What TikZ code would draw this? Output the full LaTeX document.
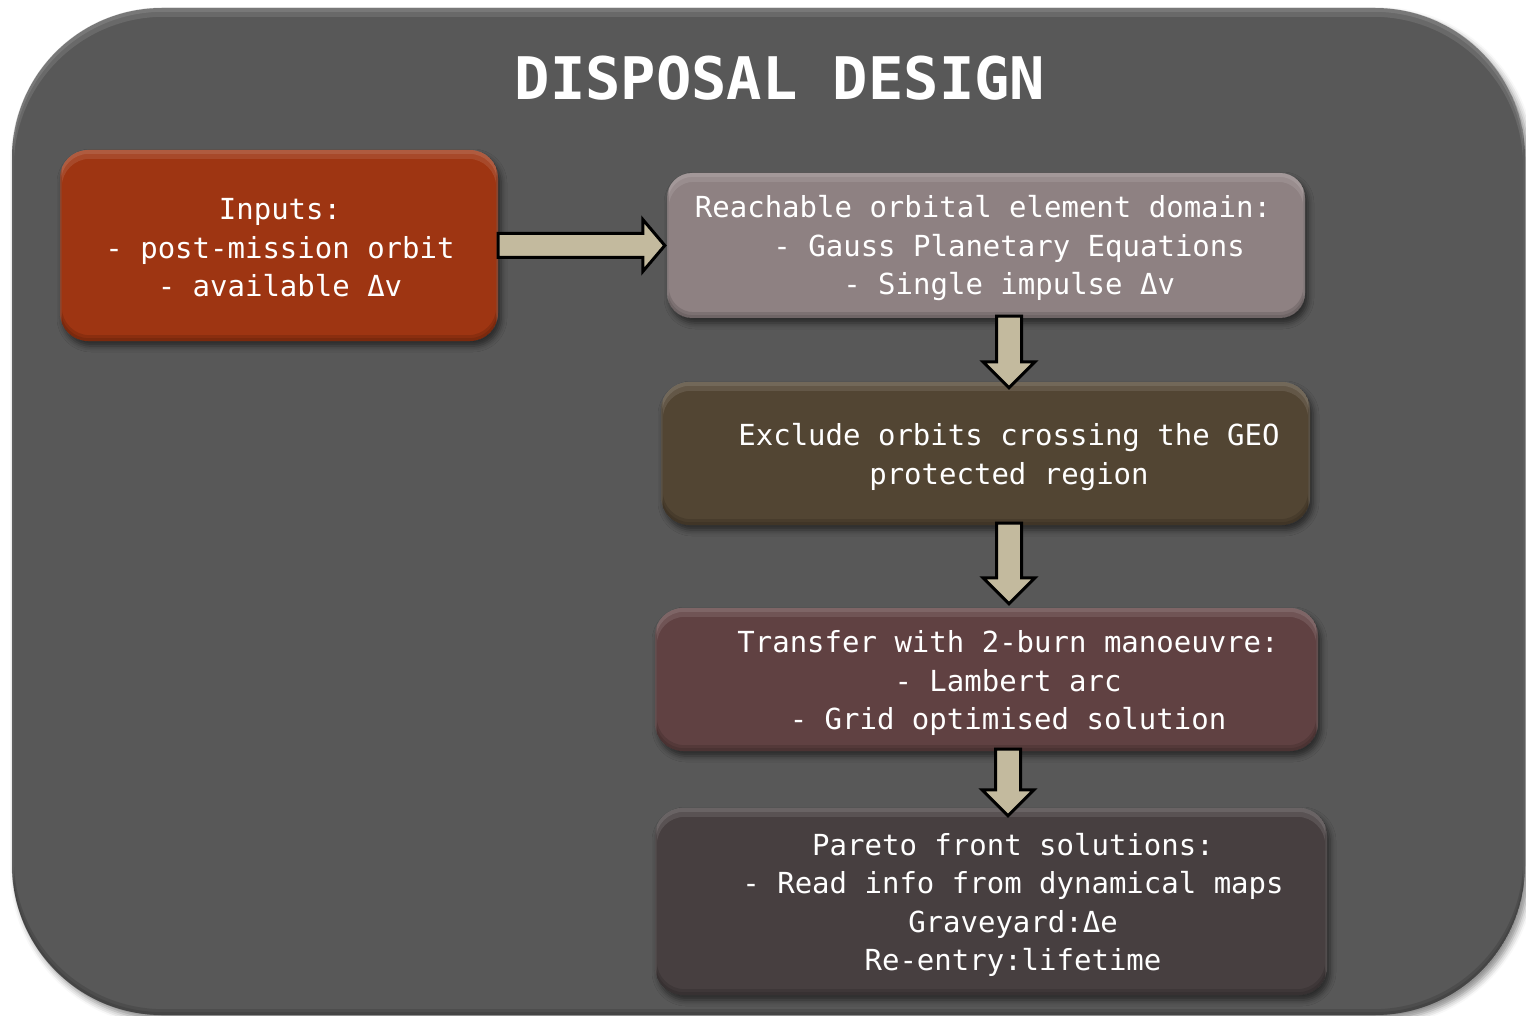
\documentclass[tikz,border=0pt]{standalone}
\usepackage{fontspec}
\setmonofont{DejaVu Sans Mono}
\usetikzlibrary{calc,shadows.blur}
\definecolor{framegray}{RGB}{88,88,88}
\definecolor{rust}{RGB}{158,53,18}
\definecolor{mauve}{RGB}{142,129,130}
\definecolor{brownbox}{RGB}{82,69,51}
\definecolor{winebox}{RGB}{96,65,66}
\definecolor{darkbox}{RGB}{71,63,64}
\definecolor{arrowtan}{RGB}{195,186,158}
\tikzset{
  stepbox/.style={rounded corners=28pt, inner sep=0pt, draw=none,
    blur shadow={shadow xshift=3pt, shadow yshift=-5pt, shadow blur radius=6pt, shadow opacity=55}},
  bodytext/.style={text=white, align=center, inner sep=0pt,
    font=\ttfamily\fontsize{29}{38.5}\selectfont},
  blockarrow/.style={fill=arrowtan, draw=black, line width=3pt, line join=miter},
}
\newcommand\bevelbox[2]{%
  \begin{scope}
    \clip[rounded corners=#2] (#1.south west) rectangle (#1.north east);
    \fill[white, opacity=.10, even odd rule, rounded corners=#2]
      (#1.south west) rectangle (#1.north east)
      ([xshift=2pt,yshift=-30pt]#1.south west) rectangle ([xshift=-2pt,yshift=-9pt]#1.north east);
    \fill[white, opacity=.10, even odd rule, rounded corners=#2]
      (#1.south west) rectangle (#1.north east)
      ([xshift=1pt,yshift=-30pt]#1.south west) rectangle ([xshift=-1pt,yshift=-4pt]#1.north east);
    \fill[black, opacity=.12, even odd rule, rounded corners=#2]
      (#1.south west) rectangle (#1.north east)
      ([xshift=2pt,yshift=6pt]#1.south west) rectangle ([xshift=-2pt,yshift=30pt]#1.north east);
    \fill[black, opacity=.10, even odd rule, rounded corners=#2]
      (#1.south west) rectangle (#1.north east)
      ([xshift=1pt,yshift=3pt]#1.south west) rectangle ([xshift=-1pt,yshift=30pt]#1.north east);
  \end{scope}}
\newcommand\vblock[4]{%
  \draw[blockarrow] let \p1=(#1.south), \p2=(#2.north), \p3=(#3.center) in
    (\x3-12.5pt,\y1+2pt) -- (\x3+12.5pt,\y1+2pt) -- (\x3+12.5pt,\y2-#4+26pt)
    -- (\x3+26pt,\y2-#4+26pt) -- (\x3,\y2-#4) -- (\x3-26pt,\y2-#4+26pt)
    -- (\x3-12.5pt,\y2-#4+26pt) -- cycle;}
\begin{document}
\begin{tikzpicture}[x=1pt,y=-1pt]
\useasboundingbox (0,0) rectangle (1526,1016);
% frame
\node[rounded corners=150pt, fill=framegray, inner sep=0pt, minimum width=1513pt, minimum height=1007pt,
  blur shadow={shadow xshift=4pt, shadow yshift=-5pt, shadow blur radius=6pt, shadow opacity=45}]
  (frame) at (768.5,511.5) {};
\bevelbox{frame}{150pt}
\node[text=white, font=\ttfamily\bfseries\fontsize{58.7}{60}\selectfont, inner sep=0pt] (title) at (780,78) {DISPOSAL DESIGN};
% boxes
\node[stepbox, fill=rust, minimum width=438pt, minimum height=191pt] (b1) at (279,245.5) {};
\bevelbox{b1}{28pt}
\node[stepbox, fill=mauve, minimum width=638pt, minimum height=145pt, rounded corners=25pt] (b2) at (986,245.5) {};
\bevelbox{b2}{25pt}
\node[stepbox, fill=brownbox, minimum width=649pt, minimum height=143pt] (b3) at (985.5,453.5) {};
\bevelbox{b3}{28pt}
\node[stepbox, fill=winebox, minimum width=663pt, minimum height=143pt] (b4) at (986.5,679.5) {};
\bevelbox{b4}{28pt}
\node[stepbox, fill=darkbox, minimum width=672pt, minimum height=187pt] (b5) at (991,901.5) {};
\bevelbox{b5}{28pt}
% texts
\node[bodytext] (t1) at (280,248) {Inputs:\\- post-mission orbit\\- available Δv};
\node[bodytext] (t2) at (983,248.5) {Reachable orbital element domain:\\\phantom{xxx}- Gauss Planetary Equations\\\phantom{xxx}- Single impulse Δv};
\node[bodytext] (t3) at (1009,457) {Exclude orbits crossing the GEO\\protected region};
\node[bodytext] (t4) at (1008,683) {Transfer with 2-burn manoeuvre:\\- Lambert arc\\- Grid optimised solution};
\node[bodytext] (t5) at (1013,905) {Pareto front solutions:\\- Read info from dynamical maps\\Graveyard:Δe\\Re-entry:lifetime};
\coordinate (c1) at (1009,0);
\coordinate (c3) at (1008,0);
% arrows
\draw[blockarrow] let \p1=(b1.east), \p2=(b2.west) in
  (\x1,\y1+12pt) -- (\x2-24pt,\y1+12pt) -- (\x2-24pt,\y1+26pt) -- (\x2-2pt,\y1)
  -- (\x2-24pt,\y1-26pt) -- (\x2-24pt,\y1-12pt) -- (\x1,\y1-12pt) -- cycle;
\vblock{b2}{b3}{c1}{6pt}
\vblock{b3}{b4}{c1}{-4pt}
\vblock{b4}{b5}{c3}{8pt}
\end{tikzpicture}
\end{document}
